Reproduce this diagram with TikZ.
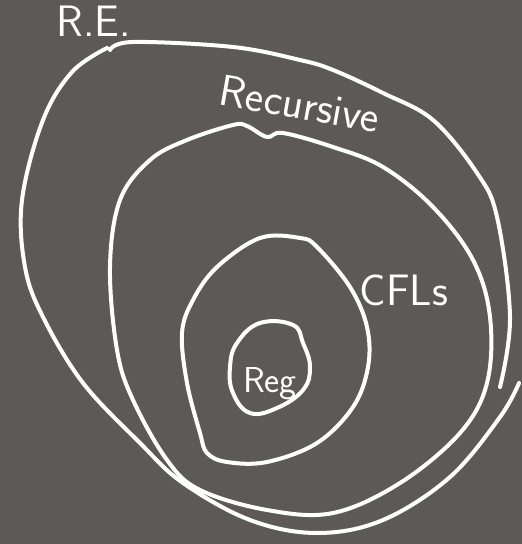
\documentclass[tikz,border=0pt]{standalone}
\usepackage{xcolor}
\usepackage{tikz}
\usetikzlibrary{positioning, calc}

\definecolor{board}{RGB}{94,89,89}

\begin{document}
\begin{tikzpicture}[x=0.5pt, y=-0.5pt,
        chalk/.style={draw=white, line width=2pt, line cap=round, line join=round},
        label/.style={text=white, font=\sffamily\fontsize{22}{22}\selectfont, inner sep=0pt}]

        % Board
        \fill [board] (0,0) rectangle (522,544);
        \useasboundingbox (0,0) rectangle (522,544);

        % Sets
        \draw [chalk] plot [smooth, tension=0.6] coordinates {(107,48) (72,72) (43,120) (22,200) (25,267) (43,317) (83,383) (140,443) (183,483) (250,520) (317,533) (383,520) (450,477) (500,417) (519,383)};
        \draw [chalk] plot [smooth, tension=0.6] coordinates {(500,387) (510,317) (497,217) (477,173) (433,120) (383,93) (333,70) (300,60) (233,47) (133,42) (110,50)};
        \draw [chalk] plot [smooth cycle, tension=0.6] coordinates {(187,140) (233,125) (247,126) (267,137) (283,133) (333,147) (383,167) (433,207) (473,260) (490,317) (487,383) (460,433) (400,483) (333,513) (267,510) (200,490) (167,460) (133,400) (117,350) (110,267) (120,200) (150,160)};
        \draw [chalk] plot [smooth cycle, tension=0.6] coordinates {(260,238) (300,238) (317,247) (350,287) (367,327) (368,367) (353,407) (317,443) (267,462) (227,462) (207,453) (200,433) (187,383) (182,333) (193,300) (217,267)};
        \draw [chalk] plot [smooth cycle, tension=0.7] coordinates {(260,323) (293,325) (303,343) (310,367) (303,390) (277,408) (250,413) (233,393) (230,367) (237,343)};

        % Nodes
        \node [label] (re) at (94,21) {R.E.};
        \node [label, rotate=-10] (recursive) at (300,104) {Recursive};
        \node [label] (cfls) at (404,290) {CFLs};
        \node [label, font=\sffamily\fontsize{18}{18}\selectfont] (reg) at (270,384) {Reg};

    \end{tikzpicture}
\end{document}
